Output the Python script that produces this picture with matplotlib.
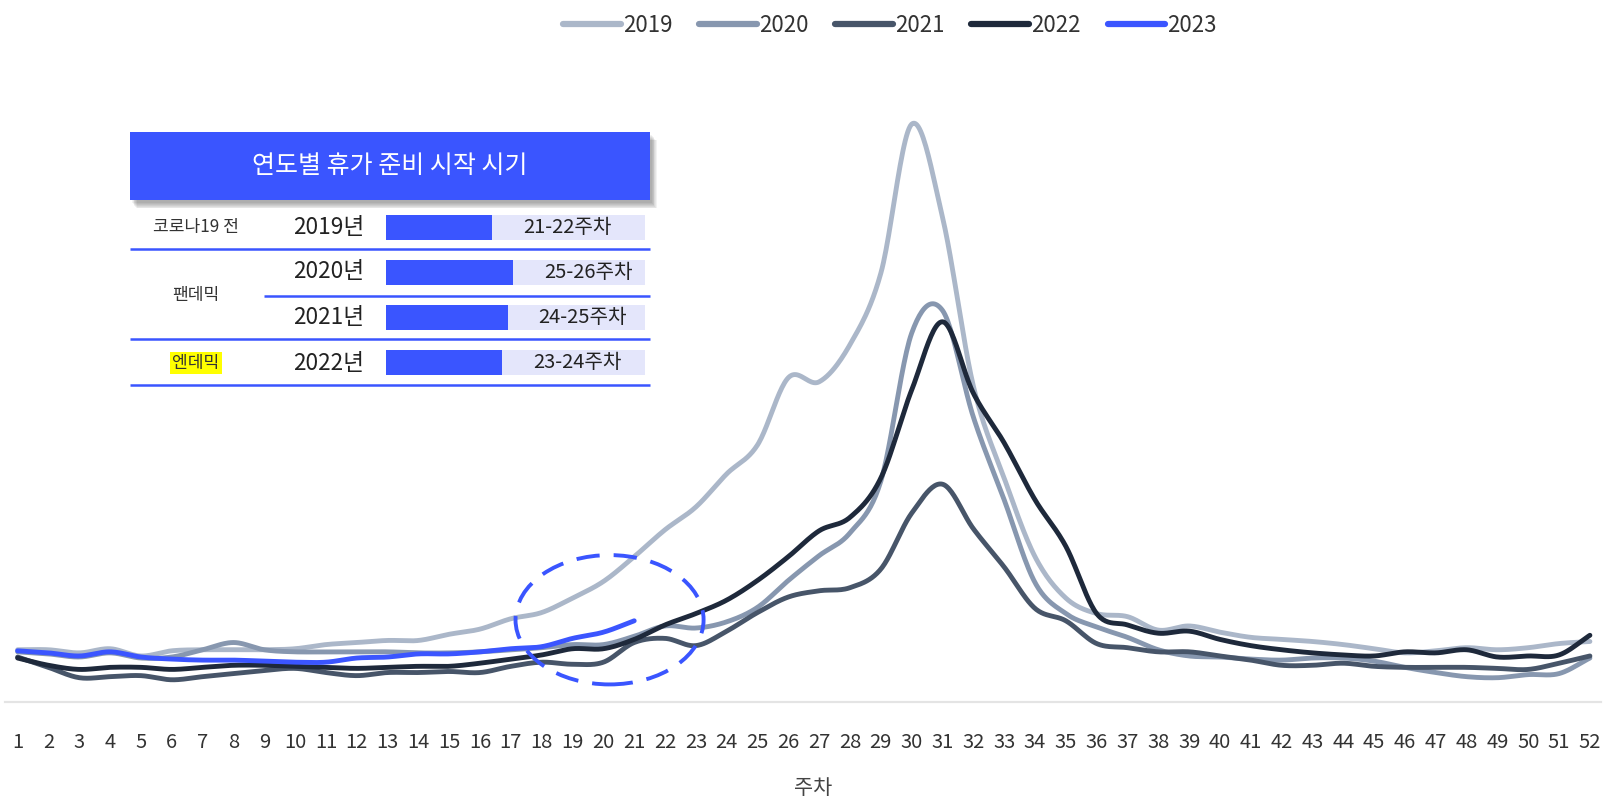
import numpy as np
import matplotlib.pyplot as plt
from matplotlib.patches import Ellipse, Rectangle
from matplotlib.lines import Line2D

plt.rcParams['font.family'] = ['Noto Sans CJK KR', 'DejaVu Sans']

# 주차별 지수 (상대값)
weeks = list(range(1, 53))
y2019 = [50, 50, 47, 51, 44, 49, 50, 50, 50, 51, 55, 57, 59, 59, 65, 70, 80, 86, 100, 116,
         140, 166, 188, 220, 248, 313, 309, 345, 414, 558, 468, 305, 216, 140, 100, 85, 82, 69,
         73, 67, 62, 60, 58, 55, 51, 47, 49, 52, 50, 52, 56, 58]
y2020 = [48, 46, 43, 47, 42, 43, 50, 57, 50, 48, 48, 48, 48, 47, 47, 48, 50, 52, 55, 55,
         63, 73, 71, 77, 91, 117, 141, 163, 213, 356, 378, 275, 195, 115, 85, 72, 62, 50,
         44, 43, 41, 40, 42, 42, 39, 33, 28, 24, 23, 26, 27, 42]
y2021 = [43, 33, 23, 24, 25, 21, 24, 27, 30, 32, 28, 25, 28, 28, 29, 28, 34, 38, 36, 38,
         57, 61, 54, 68, 86, 101, 107, 110, 128, 182, 210, 167, 130, 90, 78, 56, 52, 48,
         48, 44, 40, 35, 35, 37, 34, 33, 33, 33, 32, 31, 37, 44]
y2022 = [42, 35, 31, 33, 33, 31, 33, 35, 35, 34, 33, 32, 33, 34, 34, 37, 41, 45, 51, 51,
         60, 74, 85, 98, 117, 140, 165, 178, 216, 301, 367, 298, 250, 195, 150, 85, 74, 66,
         68, 60, 54, 50, 47, 45, 44, 48, 47, 50, 43, 44, 45, 64]
y2023 = [49, 47, 44, 48, 43, 41, 40, 40, 39, 38, 38, 42, 43, 46, 46, 48, 51, 53, 61, 67, 78]

years = ['2019', '2020', '2021', '2022', '2023']
series = [y2019, y2020, y2021, y2022, y2023]
colors = ['#abb7c9', '#8797af', '#475569', '#1e293b', '#3b55ff']

# 표 데이터
periods = ['코로나19 전', '팬데믹', '엔데믹']
table_years = ['2019년', '2020년', '2021년', '2022년']
week_ranges = ['21-22주차', '25-26주차', '24-25주차', '23-24주차']
start_mid = [21.5, 25.5, 24.5, 23.5]

BLUE = '#3a55ff'
LAV = '#e4e6fb'


def smooth(x, y, n=24):
    x = np.asarray(x, float)
    y = np.asarray(y, float)
    m = np.gradient(y, x)
    xs, ys = [], []
    t = np.linspace(0, 1, n, endpoint=False)
    for i in range(len(x) - 1):
        h = x[i + 1] - x[i]
        h00 = 2 * t**3 - 3 * t**2 + 1
        h10 = t**3 - 2 * t**2 + t
        h01 = -2 * t**3 + 3 * t**2
        h11 = t**3 - t**2
        ys.append(h00 * y[i] + h10 * h * m[i] + h01 * y[i + 1] + h11 * h * m[i + 1])
        xs.append(x[i] + t * h)
    xs.append([x[-1]])
    ys.append([y[-1]])
    return np.concatenate(xs), np.concatenate(ys)


W, H = 1622, 801
fig = plt.figure(figsize=(W / 100, H / 100), dpi=100)

ax = fig.add_axes([5 / W, 1 - 701.5 / H, 1596 / W, 701.5 / H])
for ys, c in zip(series, colors):
    sx, sy = smooth(weeks[:len(ys)], ys)
    ax.plot(sx, sy, color=c, lw=3.5, solid_capstyle='round')

ax.add_patch(Ellipse((20.2, 79), 6.1, 125, fill=False, ec=BLUE, lw=2.8,
                     ls=(0, (6, 3.6)), zorder=5))

ax.set_xlim(0.59, 52.36)
ax.set_ylim(0, 678)
ax.set_xticks(weeks)
ax.set_xticklabels([str(w) for w in weeks], fontsize=14.5, color='#333333')
ax.tick_params(axis='x', length=0, pad=22)
ax.set_yticks([])
for s in ['top', 'right', 'left']:
    ax.spines[s].set_visible(False)
ax.spines['bottom'].set_color('#e4e4e4')
ax.spines['bottom'].set_linewidth(1.6)
fig.text(813 / W, 1 - 788 / H, '주차', ha='center', va='center', fontsize=15, color='#444444')

handles = [Line2D([], [], color=c, lw=4.5, solid_capstyle='round') for c in colors]
fig.legend(handles, years, loc='upper center', bbox_to_anchor=(890 / W, 1.008), ncol=5,
           frameon=False, fontsize=16, handlelength=2.6, handletextpad=0.1,
           columnspacing=1.2, labelcolor='#333333')

# 표 (픽셀 좌표 오버레이)
ov = fig.add_axes([0, 0, 1, 1])
ov.set_xlim(0, W)
ov.set_ylim(H, 0)
ov.axis('off')

for k in range(7):
    ov.add_patch(Rectangle((130 + 2 + k * 0.8, 132 + 3 + k * 0.9), 520, 68,
                           fc='black', ec='none', alpha=0.05))
ov.add_patch(Rectangle((130, 132), 520, 68, fc=BLUE, ec='none'))
ov.text(390, 166, '연도별 휴가 준비 시작 시기', ha='center', va='center', color='white',
        fontsize=18, fontweight='medium')

for yl in [249, 339, 385]:
    ov.plot([130, 650], [yl, yl], color=BLUE, lw=1.8, solid_capstyle='butt')
ov.plot([264, 650], [296, 296], color=BLUE, lw=1.8, solid_capstyle='butt')

row_y = [227, 272, 318, 363]
period_y = [227, 295, 363]
for p, py in zip(periods, period_y):
    kw = dict(ha='center', va='center', fontsize=12.3, color='#333333')
    if p == '엔데믹':
        kw['bbox'] = dict(fc='#ffff00', ec='none', pad=1.5)
    ov.text(196, py, p, **kw)
for ty, ry in zip(table_years, row_y):
    ov.text(329, ry, ty, ha='center', va='center', fontsize=16.3, color='#222222',
            fontweight='light')

bx = fig.add_axes([386 / W, 1 - 385.6 / H, 258.6 / W, (385.6 - 204.4) / H])
bx.set_xlim(1, 51)
bx.set_ylim(3.5, -0.5)
bx.axis('off')
rows = np.arange(len(start_mid))
bx.barh(rows, [50] * len(rows), left=1, height=0.55, color=LAV)
bx.barh(rows, np.array(start_mid) - 1, left=1, height=0.55, color=BLUE)
for r, (m, lab) in enumerate(zip(start_mid, week_ranges)):
    bx.text(m + 6, r, lab, ha='left', va='center', fontsize=14.5, color='#222222',
            fontweight='light')

fig.savefig('out.png', dpi=100)
